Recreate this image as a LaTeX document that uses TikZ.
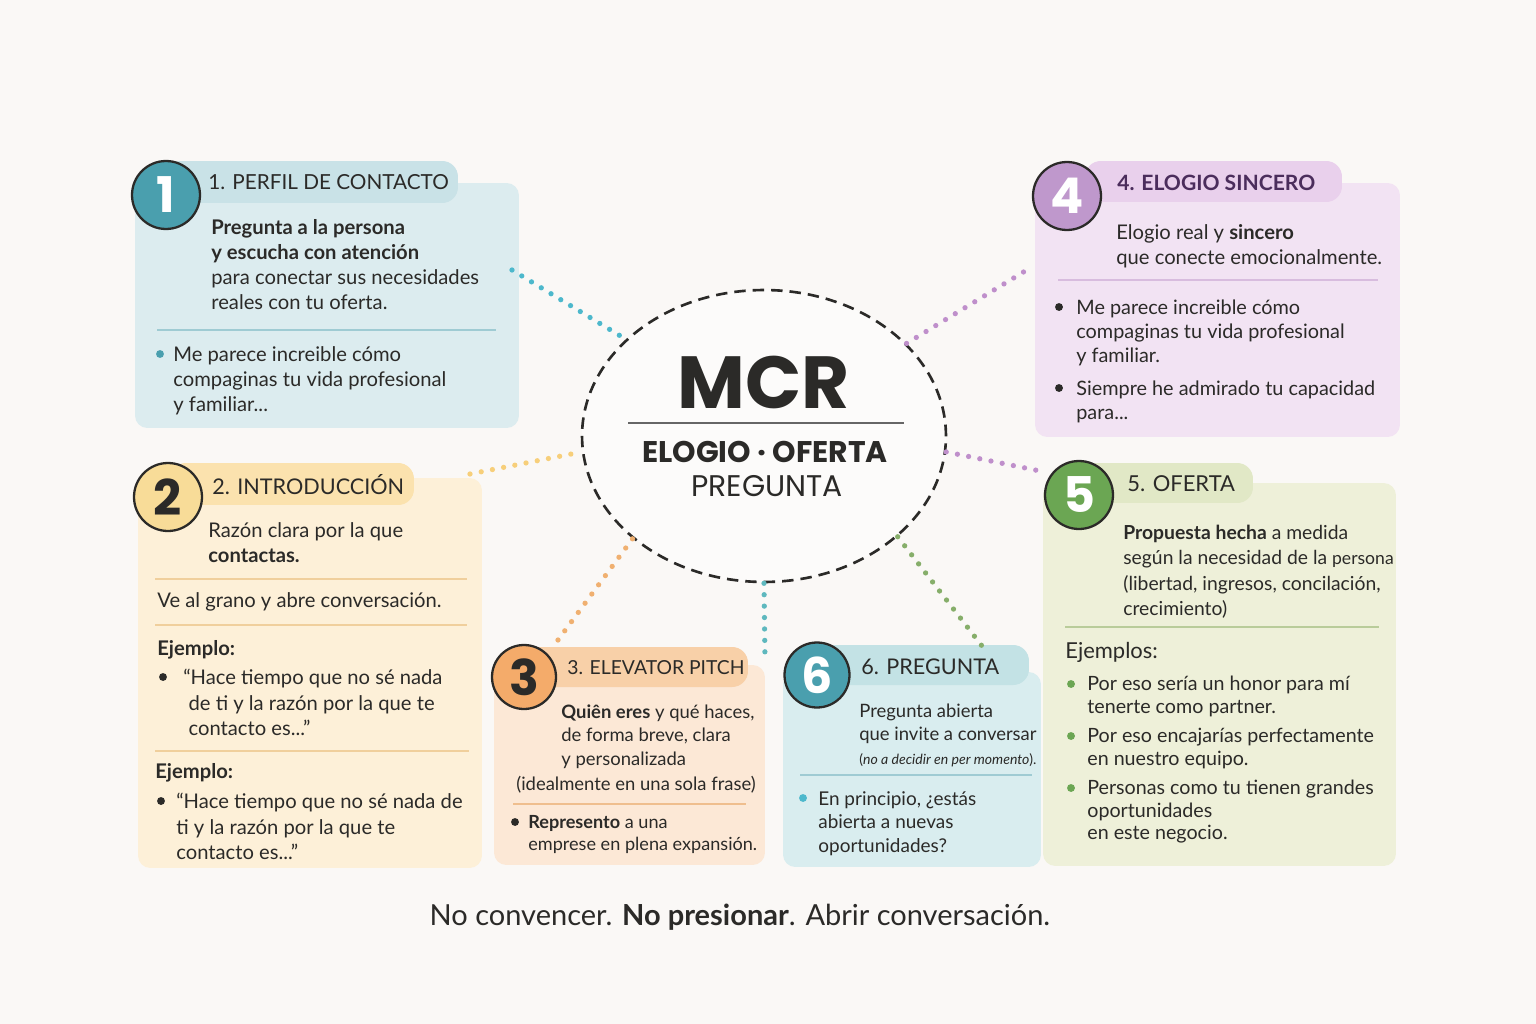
\documentclass[tikz,border=0pt]{standalone}
\usepackage{fontspec}
\setmainfont{Lato}
\newfontfamily\geofont{Poppins}
\usepackage{xcolor}
\usetikzlibrary{shapes.geometric,calc}

\definecolor{paper}{HTML}{FAF8F6}
\definecolor{inkdark}{HTML}{2B2A28}
\definecolor{blueBox}{HTML}{DCECEF}
\definecolor{blueTab}{HTML}{C9E2E7}
\definecolor{blueNum}{HTML}{4A9FAE}
\definecolor{blueLine}{HTML}{9FCBD3}
\definecolor{blueDot}{HTML}{4DB8CC}
\definecolor{yelBox}{HTML}{FDF0D8}
\definecolor{yelTab}{HTML}{FBE2AE}
\definecolor{yelNum}{HTML}{F8DC98}
\definecolor{yelLine}{HTML}{F0CF9C}
\definecolor{yelDot}{HTML}{F7CF7A}
\definecolor{orgBox}{HTML}{FCE8D6}
\definecolor{orgTab}{HTML}{F8D0A8}
\definecolor{orgNum}{HTML}{F4AB6A}
\definecolor{orgLine}{HTML}{EFBE8E}
\definecolor{orgDot}{HTML}{F0B070}
\definecolor{tealBox}{HTML}{D9EDEF}
\definecolor{tealTab}{HTML}{C3E2E5}
\definecolor{tealDot}{HTML}{5EB8BE}
\definecolor{purBox}{HTML}{F2E3F3}
\definecolor{purTab}{HTML}{E9D0EC}
\definecolor{purNum}{HTML}{BF98CC}
\definecolor{purLine}{HTML}{D8BCDE}
\definecolor{purDot}{HTML}{BF8FCB}
\definecolor{purInk}{HTML}{4B2D5C}
\definecolor{grnBox}{HTML}{EEF0D9}
\definecolor{grnTab}{HTML}{E1E8C6}
\definecolor{grnNum}{HTML}{6BA653}
\definecolor{grnLine}{HTML}{B9CC9A}
\definecolor{grnDot}{HTML}{86AE6A}

\newcommand{\bodyfont}{\fontsize{11.5}{14.3}\selectfont}
\newcommand{\smallbody}{\fontsize{10.5}{13.5}\selectfont}
\newcommand{\headfont}{\fontsize{12.3}{14}\selectfont}
\newcommand{\numfont}{\geofont\bfseries\fontsize{28}{28}\selectfont}

\begin{document}
\begin{tikzpicture}[
      x=0.02cm, y=-0.02cm,
      card/.style={rectangle, rounded corners=7pt, inner sep=0},
      tab/.style={rectangle, rounded corners=9pt, inner sep=0, minimum height=0.84cm},
      badge/.style={circle, draw=inkdark, line width=1.3pt, minimum size=1.36cm,
                    inner sep=0, font=\numfont},
      head/.style={anchor=west, inner sep=0, font=\headfont, text=inkdark},
      txt/.style={anchor=north west, inner sep=0, align=left, font=\bodyfont,
                  text=inkdark, yshift=-1.2pt},
      small/.style={txt, font=\smallbody},
      sep/.style={line width=0.7pt},
      bull/.style={circle, inner sep=0, minimum size=4.5pt},
      link/.style={line width=3pt, line cap=round, dash pattern=on 0pt off 6.5pt},
  ]

  % Paper
  \fill[paper] (0,0) rectangle (1536,1024);
  \useasboundingbox (0,0) rectangle (1536,1024);

  % Centre
  \node[ellipse, draw=inkdark, line width=1.5pt, dash pattern=on 6.5pt off 4pt,
        fill=white!40!paper, minimum width=7.28cm, minimum height=5.84cm] (mcr) at (764,436) {};
  \node[font=\geofont\bfseries\fontsize{42}{42}\selectfont, text=inkdark] (mcrt) at (764,382) {MCR};
  \draw[black!60, line width=0.8pt] (628,423) -- (904,423);
  \node[font=\geofont\bfseries\fontsize{17}{20}\selectfont, text=inkdark] (mcr1) at (765,452) {ELOGIO · OFERTA};
  \node[font=\geofont\fontsize{17}{20}\selectfont, text=inkdark] (mcr2) at (767,486) {PREGUNTA};

  % Card 1 (blue)
  \node[card, fill=blueBox, minimum width=7.68cm, minimum height=4.90cm] (c1) at (327,305.5) {};
  \node[tab, fill=blueTab, minimum width=5.86cm] (tab1) at (311.5,182) {};
  \node[badge, fill=blueNum, text=white] (n1) at (166,195) {1};
  \node[head, font=\fontsize{11.8}{14}\selectfont] (t1) at (208,182) {1. PERFIL DE CONTACTO};
  \node[txt] (b1) at (211,217) {\textbf{Pregunta a la persona}\\\textbf{y escucha con atención}\\para conectar sus necesidades\\reales con tu oferta.};
  \draw[sep, blueLine] (157,330) -- (496,330);
  \node[bull, fill=blueNum] (d11) at (160,354) {};
  \node[txt] (e1) at (173,344) {Me parece increible cómo\\compaginas tu vida profesional\\y familiar...};

  % Card 2 (yellow)
  \node[card, fill=yelBox, minimum width=6.88cm, minimum height=7.80cm] (c2) at (310,673) {};
  \node[tab, fill=yelTab, minimum width=4.88cm] (tab2) at (292,484) {};
  \node[badge, fill=yelNum, text=inkdark] (n2) at (168,497) {2};
  \node[head] (t2) at (212,485) {2. INTRODUCCIÓN};
  \node[txt] (b2) at (208,520) {Razón clara por la que\\\textbf{contactas.}};
  \draw[sep, yelLine] (155,579) -- (467,579);
  \node[txt] (v2) at (157,590) {Ve al grano y abre conversación.};
  \draw[sep, yelLine] (155,625) -- (467,625);
  \node[txt] (x2) at (157,638) {\textbf{Ejemplo:}};
  \node[bull, fill=inkdark] (d21) at (163,677) {};
  \node[txt] (e2) at (183,667) {“Hace tiempo que no sé nada\\\hspace*{3pt}de ti y la razón por la que te\\\hspace*{3pt}contacto es...”};
  \draw[sep, yelLine] (155,751) -- (469,751);
  \node[txt] (y2) at (155,761) {\textbf{Ejemplo:}};
  \node[bull, fill=inkdark] (d22) at (161,801) {};
  \node[txt] (f2) at (176,791) {“Hace tiempo que no sé nada de\\ti y la razón por la que te\\contacto es...”};

  % Card 3 (orange)
  \node[card, fill=orgBox, minimum width=5.42cm, minimum height=4.00cm] (c3) at (629.5,765) {};
  \node[tab, fill=orgTab, minimum width=4.56cm, minimum height=0.80cm] (tab3) at (634,667) {};
  \node[badge, fill=orgNum, text=inkdark, minimum size=1.28cm] (n3) at (524,677) {3};
  \node[head, font=\fontsize{11}{13}\selectfont] (t3) at (567,668) {3. ELEVATOR PITCH};
  \node[small] (b3) at (561,702) {\textbf{Quiên eres} y qué haces,\\de forma breve, clara\\y personalizada};
  \node[small] (p3) at (516,774) {(idealmente en una sola frase)};
  \draw[sep, orgLine] (513,804) -- (746,804);
  \node[bull, fill=inkdark] (d31) at (515,822) {};
  \node[small, font=\fontsize{10.3}{12.6}\selectfont] (e3) at (528,813) {\textbf{Represento} a una\\emprese en plena expansión.};

  % Card 6 (teal)
  \node[card, fill=tealBox, minimum width=5.16cm, minimum height=3.90cm] (c6) at (912,769.5) {};
  \node[tab, fill=tealTab, minimum width=4.18cm, minimum height=0.80cm] (tab6) at (924.5,665) {};
  \node[badge, fill=blueNum, text=white, minimum size=1.30cm] (n6) at (817,675) {6};
  \node[head] (t6) at (861,667) {6. PREGUNTA};
  \node[small] (b6) at (859,701) {Pregunta abierta\\que invite a conversar\\{\fontsize{8}{10}\selectfont(\textit{no a decidir en per momento}).}};
  \draw[sep, blueLine] (800,775) -- (1032,775);
  \node[bull, fill=blueDot] (d61) at (803,798) {};
  \node[small, font=\fontsize{10.8}{13.4}\selectfont] (e6) at (818,789) {En principio, ¿estás\\abierta a nuevas\\oportunidades?};

  % Card 4 (purple)
  \node[card, fill=purBox, minimum width=7.30cm, minimum height=5.08cm] (c4) at (1217.5,310) {};
  \node[tab, fill=purTab, minimum width=5.14cm, minimum height=0.82cm] (tab4) at (1213.5,181.5) {};
  \node[badge, fill=purNum, text=white] (n4) at (1067,196) {4};
  \node[head, font=\bfseries\fontsize{12}{14}\selectfont, text=purInk] (t4) at (1117,183) {4. ELOGIO SINCERO};
  \node[txt] (b4) at (1116,222) {Elogio real y \textbf{sincero}\\que conecte emocionalmente.};
  \draw[sep, purLine] (1058,280) -- (1378,280);
  \node[bull, fill=inkdark] (d41) at (1059,307) {};
  \node[txt, font=\fontsize{11.3}{13.9}\selectfont] (e4) at (1076,297) {Me parece increible cómo\\compaginas tu vida profesional\\y familiar.};
  \node[bull, fill=inkdark] (d42) at (1059,388) {};
  \node[txt, font=\fontsize{11.3}{13.9}\selectfont] (f4) at (1076,378) {Siempre he admirado tu capacidad\\para...};

  % Card 5 (green)
  \node[card, fill=grnBox, minimum width=7.06cm, minimum height=7.66cm] (c5) at (1219.5,674.5) {};
  \node[tab, fill=grnTab, minimum width=3.56cm, minimum height=0.80cm] (tab5) at (1164,483) {};
  \node[badge, fill=grnNum, text=white] (n5) at (1079,495) {5};
  \node[head, font=\fontsize{12.5}{14}\selectfont] (t5) at (1127,484) {5. OFERTA};
  \node[txt, font=\fontsize{11}{14.3}\selectfont] (b5) at (1123,523) {\textbf{Propuesta hecha} a medida\\según la necesidad de la {\fontsize{10}{12}\selectfont persona}\\(libertad, ingresos, concilación,\\crecimiento)};
  \draw[sep, grnLine] (1065,627) -- (1379,627);
  \node[txt, font=\fontsize{12.5}{14}\selectfont] (x5) at (1065,640) {Ejemplos:};
  \node[bull, fill=grnNum] (d51) at (1071,684) {};
  \node[txt, font=\fontsize{11.2}{12.8}\selectfont] (e5) at (1087,674) {Por eso sería un honor para mí\\tenerte como partner.};
  \node[bull, fill=grnNum] (d52) at (1071,736) {};
  \node[txt, font=\fontsize{11.2}{12.8}\selectfont] (f5) at (1087,726) {Por eso encajarías perfectamente\\en nuestro equipo.};
  \node[bull, fill=grnNum] (d53) at (1071,788) {};
  \node[txt, font=\fontsize{11.2}{12.8}\selectfont] (g5) at (1087,778) {Personas como tu tienen grandes\\oportunidades\\en este negocio.};

  % Dotted links to the centre
  \coordinate (p1) at (512,270);
  \coordinate (p2) at (470,474);
  \coordinate (p3) at (558,640);
  \coordinate (p6) at (765,660);
  \coordinate (p5) at (982,646);
  \coordinate (p4) at (1030,268);
  \coordinate (q5) at (1045,472);
  \draw[link, blueDot] (p1) -- (mcr.145);
  \draw[link, yelDot]  (p2) -- (mcr.185);
  \draw[link, orgDot]  (p3) -- (mcr.218);
  \draw[link, tealDot] (mcr.south) -- (p6);
  \draw[link, grnDot]  (mcr.323) -- (p5);
  \draw[link, purDot]  (mcr.33) -- (p4);
  \draw[link, purDot]  (mcr.355) -- (q5);

  % Tagline
  \node[font=\fontsize{16.5}{19}\selectfont, text=inkdark] (tag) at (740,917) {No convencer. \textbf{No presionar}. Abrir conversación.};

  \end{tikzpicture}
\end{document}
